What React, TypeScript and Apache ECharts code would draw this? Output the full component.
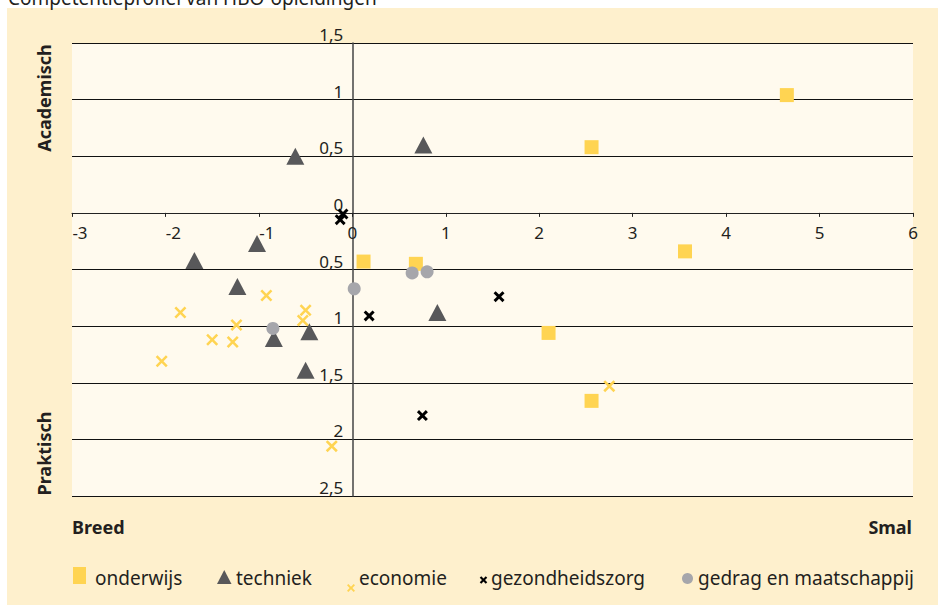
import React, { useEffect, useRef } from "react";
import * as echarts from "echarts";

const titleText = "Competentieprofiel van HBO-opleidingen";
const seriesNames = ["onderwijs", "techniek", "economie", "gezondheidszorg", "gedrag en maatschappij"];

const onderwijs = [[4.65, 1.04], [2.56, 0.58], [3.56, -0.34], [0.12, -0.43], [0.68, -0.45], [2.1, -1.06], [2.56, -1.66]];
const techniek = [[-0.61, 0.5], [0.76, 0.6], [-1.02, -0.27], [-1.69, -0.42], [-1.23, -0.65], [0.91, -0.88], [-0.84, -1.11], [-0.46, -1.05], [-0.5, -1.39]];
const economie = [[-0.92, -0.73], [-1.84, -0.88], [-0.5, -0.86], [-0.53, -0.95], [-1.24, -0.99], [-1.5, -1.12], [-1.28, -1.14], [-2.04, -1.31], [-0.22, -2.06], [2.75, -1.53]];
const gezondheidszorg = [[-0.1, -0.01], [-0.13, -0.06], [0.18, -0.91], [0.75, -1.79], [1.57, -0.74]];
const gedrag = [[0.02, -0.67], [0.64, -0.53], [0.8, -0.52], [-0.85, -1.02]];

const xMin = -3, xMax = 6, xStep = 1;
const yMin = -2.5, yMax = 1.5, yStep = 0.5;
const yNameTop = "Academisch";
const yNameBottom = "Praktisch";
const xNameLeft = "Breed";
const xNameRight = "Smal";

const FONT = "'Noto Sans', sans-serif";
const YELLOW = "#FFD452";
const DARK = "#58585A";
const GRAY = "#A6A6AB";
const INK = "#231F20";

const GRID = { left: 72, right: 25, top: 43, bottom: 113 };
const W = 938, H = 609;

function xPath(d: number) {
  const s = 10, h = 5;
  const p = [[0, d], [d, 0], [h, h - d], [s - d, 0], [s, d], [h + d, h], [s, s - d], [s - d, s], [h, h + d], [d, s], [0, s - d], [h - d, h]];
  return "path://M" + p.map((q) => q.join(",")).join(" L") + " Z";
}
function xPts(cx: number, cy: number, s: number, df: number) {
  const h = s / 2, o = df * s;
  const p = [[0, o], [o, 0], [h, h - o], [s - o, 0], [s, o], [h + o, h], [s, s - o], [s - o, s], [h, h + o], [o, s], [0, s - o], [h - o, h]];
  return p.map(([a, b]) => [cx - h + a, cy - h + b]);
}

export default function App() {
  const ref = useRef<HTMLDivElement>(null);
  useEffect(() => {
    document.body.style.margin = "0";
    const chart = echarts.init(ref.current!, null, { renderer: "svg" });
    // axis offsets so the axes cross at (0, 0)
    const pw = W - GRID.left - GRID.right;
    const ph = H - GRID.top - GRID.bottom;
    const yOffset = -((0 - xMin) / (xMax - xMin)) * pw;
    const xOffset = -((0 - yMin) / (yMax - yMin)) * ph;
    const legendText = (x: number, t: string) => ({
      type: "text", x, y: 578,
      style: { text: t, font: `19px ${FONT}`, fill: INK, textAlign: "left", textVerticalAlign: "middle" },
    });
    chart.setOption({
      animation: false,
      grid: { ...GRID, show: true, backgroundColor: "#FFFAEE", borderWidth: 0 },
      xAxis: {
        type: "value", min: xMin, max: xMax, interval: xStep, position: "bottom", offset: xOffset,
        axisLine: { onZero: false, lineStyle: { color: "#222", width: 1 } },
        axisTick: { show: true, length: 4, lineStyle: { color: "#222" } },
        splitLine: { show: false },
        axisLabel: {
          margin: 11, fontSize: 17, fontFamily: FONT, color: INK,
          formatter: (v: number) => (v < 0 ? `{n|-${Math.abs(v)}}` : `${v}`),
          rich: { n: { fontSize: 17, fontFamily: FONT, color: INK, padding: [0, 0, 0, 16] } },
        },
      },
      yAxis: {
        type: "value", min: yMin, max: yMax, interval: yStep, position: "left", offset: yOffset,
        axisLine: { show: true, onZero: false, lineStyle: { color: "#444", width: 1.5 } },
        axisTick: { show: false },
        splitLine: { show: true, lineStyle: { color: "#111", width: 1 } },
        axisLabel: {
          margin: 9, fontSize: 17, fontFamily: FONT, color: INK, verticalAlign: "bottom",
          formatter: (v: number) => String(Math.abs(v)).replace(".", ","),
        },
      },
      series: [
        { name: seriesNames[0], type: "scatter", data: onderwijs, symbol: "rect", symbolSize: 14, itemStyle: { color: YELLOW, opacity: 1 } },
        { name: seriesNames[1], type: "scatter", data: techniek, symbol: "triangle", symbolSize: [18, 17], itemStyle: { color: DARK, opacity: 1 } },
        { name: seriesNames[2], type: "scatter", data: economie, symbol: xPath(1.5), symbolSize: 12, itemStyle: { color: YELLOW, opacity: 1 } },
        { name: seriesNames[3], type: "scatter", data: gezondheidszorg, symbol: xPath(1.9), symbolSize: 11, itemStyle: { color: "#000", opacity: 1 } },
        { name: seriesNames[4], type: "scatter", data: gedrag, symbol: "circle", symbolSize: 13, itemStyle: { color: GRAY, opacity: 1 } },
      ],
      graphic: [
        { type: "rect", z: -10, silent: true, shape: { x: 7, y: 8, width: 931, height: 597 }, style: { fill: "#FEF0CD" } },
        { type: "text", x: 8, y: -2.5, style: { text: titleText, font: `19px ${FONT}`, fill: INK, textAlign: "left", textVerticalAlign: "middle" } },
        { type: "text", x: 44, y: 98, rotation: Math.PI / 2, style: { text: yNameTop, font: `bold 18px ${FONT}`, fill: INK, textAlign: "center", textVerticalAlign: "middle" } },
        { type: "text", x: 44, y: 453.5, rotation: Math.PI / 2, style: { text: yNameBottom, font: `bold 18px ${FONT}`, fill: INK, textAlign: "center", textVerticalAlign: "middle" } },
        { type: "text", x: 72, y: 527, style: { text: xNameLeft, font: `bold 18px ${FONT}`, fill: INK, textAlign: "left", textVerticalAlign: "middle" } },
        { type: "text", x: 912, y: 527, style: { text: xNameRight, font: `bold 18px ${FONT}`, fill: INK, textAlign: "right", textVerticalAlign: "middle" } },
        { type: "rect", shape: { x: 73, y: 567, width: 13, height: 17 }, style: { fill: YELLOW } },
        legendText(95, seriesNames[0]),
        { type: "polygon", shape: { points: [[217, 584], [231.5, 584], [224.25, 570]] }, style: { fill: DARK } },
        legendText(236, seriesNames[1]),
        { type: "polygon", shape: { points: xPts(351, 588, 8, 0.17) }, style: { fill: YELLOW } },
        legendText(359, seriesNames[2]),
        { type: "polygon", shape: { points: xPts(483.5, 580, 7.5, 0.2) }, style: { fill: "#000" } },
        legendText(491, seriesNames[3]),
        { type: "circle", shape: { cx: 687.5, cy: 578.5, r: 5.5 }, style: { fill: GRAY } },
        legendText(698, seriesNames[4]),
      ],
    });
    return () => chart.dispose();
  }, []);
  return <div ref={ref} style={{ width: W, height: H }} />;
}
